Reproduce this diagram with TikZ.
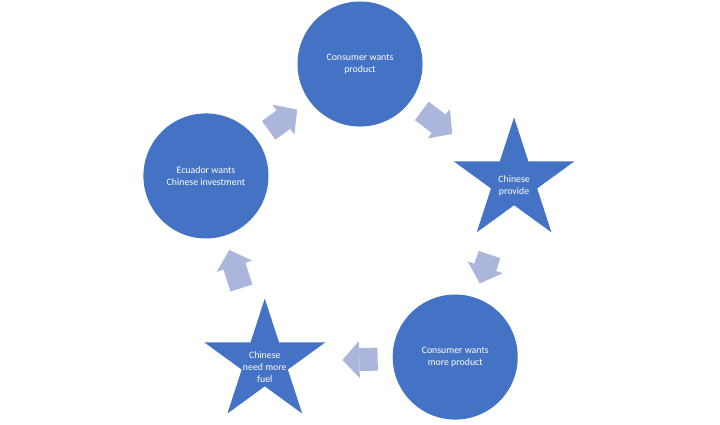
\documentclass[tikz,border=0pt]{standalone}
\usepackage{fontspec}
\setmainfont{Carlito}
\usetikzlibrary{positioning,arrows.meta,calc,shapes.geometric}
\definecolor{stagefill}{RGB}{68,114,196}
\definecolor{arrowfill}{RGB}{170,182,219}
\tikzset{
  stagetext/.style={text=white,font=\fontsize{7}{8.5}\selectfont,align=center},
  roundstage/.style={circle,fill=stagefill,minimum size=3.125cm,inner sep=0pt,stagetext},
  starstage/.style={star,star points=5,star point ratio=2.618,fill=stagefill,minimum size=3.175cm,inner sep=0pt},
  startext/.style={stagetext,yshift=-0.13cm},
  cyclearrow/.style={draw=arrowfill,line width=0.575cm,-{Triangle[width=0.925cm,length=0.425cm,line width=0pt]},shorten <=1.94cm,shorten >=1.94cm}
}
\begin{document}
\begin{tikzpicture}[x=0.025cm,y=0.025cm]
  \def\R{162}
  \useasboundingbox (0,0) rectangle (720,424);
  \coordinate (hub) at (360,198);
  % stages round the cycle
  \node[roundstage] (consumer) at ($(hub)+(90:\R)$) {Consumer wants\\product};
  \node[starstage,label={[startext]center:Chinese\\provide}] (provide) at ($(hub)+(18:\R)+(0,-5)$) {};
  \node[roundstage] (more) at ($(hub)+(-54:\R)$) {Consumer wants\\more product};
  \node[starstage,label={[startext]center:Chinese\\need more\\fuel}] (fuel) at ($(hub)+(-126:\R)+(0,-5)$) {};
  \node[roundstage] (ecuador) at ($(hub)+(162:\R)$) {Ecuador wants\\Chinese investment};
  % arrows halfway on the chords
  \draw[cyclearrow] (consumer.center) -- (provide.center);
  \draw[cyclearrow] (provide.center) -- (more.center);
  \draw[cyclearrow] (more.center) -- (fuel.center);
  \draw[cyclearrow] (fuel.center) -- (ecuador.center);
  \draw[cyclearrow] (ecuador.center) -- (consumer.center);
\end{tikzpicture}
\end{document}
